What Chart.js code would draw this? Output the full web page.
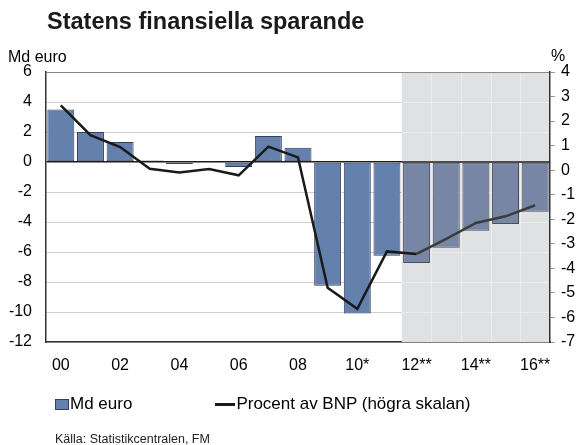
<!DOCTYPE html>
<html lang="sv">
<head>
    <meta charset="UTF-8">
    <title>Statens finansiella sparande</title>
    <script src="https://cdn.jsdelivr.net/npm/chart.js"></script>
    <style>
        body {
            margin: 0;
            padding: 0;
            background: #ffffff;
            font-family: "Liberation Sans", Arial, sans-serif;
        }

        .wrap {
            position: relative;
            width: 581px;
            height: 445px;
        }

        canvas {
            position: absolute;
            left: 0;
            top: 0;
        }

        .legend {
            position: absolute;
            top: 394px;
            left: 55px;
            font-size: 17px;
            color: #000;
            display: flex;
            align-items: center;
            white-space: nowrap;
        }

        .legend .item {
            display: flex;
            align-items: center;
        }

        .legend .box {
            width: 12px;
            height: 9px;
            margin-right: 1px;
        }

        .legend .line {
            width: 20px;
            height: 3px;
            margin-right: 1px;
        }
    </style>
</head>
<body>

    <div class="wrap">
        <canvas id="sparande" width="581" height="445"></canvas>
        <div class="legend" id="legend"></div>
    </div>

    <script>
        // år (00-16), * = preliminärt, ** = prognos
        const years = ['00', '01', '02', '03', '04', '05', '06', '07', '08', '09',
                       '10*', '11*', '12**', '13**', '14**', '15**', '16**'];

        // Md euro (vänstra skalan)
        const mdEuro = [3.5, 2.0, 1.33, 0.1, -0.13, 0.07, -0.33, 1.73, 0.95,
                        -8.25, -10.1, -6.25, -6.73, -5.71, -4.58, -4.13, -3.31];

        // Procent av BNP (högra skalan)
        const procentBnp = [2.64, 1.43, 0.94, 0.06, -0.09, 0.05, -0.21, 0.96, 0.52,
                            -4.79, -5.65, -3.31, -3.41, -2.8, -2.15, -1.88, -1.43];

        // första prognosåret (index i years)
        const prognosStart = 12;

        const barFill = mdEuro.map((v, i) => i >= prognosStart ? '#7786a4' : '#6481ad');
        const barBorder = mdEuro.map((v, i) => i >= prognosStart ? '#4b505c' : '#36405a');

        // grå prognosyta + ljusa stödlinjer ovanpå
        const prognosYta = {
            id: 'prognosYta',
            beforeDatasetsDraw(chart) {
                const { ctx, chartArea, scales } = chart;
                const step = scales.x.getPixelForValue(1) - scales.x.getPixelForValue(0);
                const x0 = scales.x.getPixelForValue(prognosStart) - step / 2;
                ctx.save();
                ctx.fillStyle = '#e0e1e3';
                ctx.fillRect(x0, chartArea.top + 1, chartArea.right - x0 - 1, chartArea.bottom - chartArea.top - 1);

                ctx.strokeStyle = '#ececec';
                ctx.lineWidth = 1;
                scales.y.ticks.forEach(t => {
                    if (t.value === 0 || t.value === 6 || t.value === -12) return;
                    const y = Math.round(scales.y.getPixelForValue(t.value)) + 0.5;
                    ctx.beginPath();
                    ctx.moveTo(x0, y);
                    ctx.lineTo(chartArea.right - 1, y);
                    ctx.stroke();
                });
                for (let i = prognosStart + 1; i < years.length; i++) {
                    const x = Math.round(scales.x.getPixelForValue(i) - step / 2) + 0.5;
                    ctx.beginPath();
                    ctx.moveTo(x, chartArea.top + 1);
                    ctx.lineTo(x, chartArea.bottom);
                    ctx.stroke();
                }
                // nollinjen
                const y0 = scales.y.getPixelForValue(0);
                ctx.strokeStyle = '#1a1a1a';
                ctx.lineWidth = 1.5;
                ctx.beginPath();
                ctx.moveTo(x0, y0);
                ctx.lineTo(chartArea.right, y0);
                ctx.stroke();
                ctx.restore();
            }
        };

        // rubrik, enheter och källa
        const texter = {
            id: 'texter',
            afterDraw(chart) {
                const ctx = chart.ctx;
                ctx.save();
                ctx.fillStyle = '#1a1a1a';
                ctx.textBaseline = 'middle';
                ctx.textAlign = 'left';
                ctx.font = 'bold 23.5px "Liberation Sans", Arial, sans-serif';
                ctx.fillText('Statens finansiella sparande', 47, 23);
                ctx.fillStyle = '#000';
                ctx.font = '16px "Liberation Sans", Arial, sans-serif';
                ctx.fillText('Md euro', 8, 58);
                ctx.fillText('%', 551, 57);
                ctx.fillStyle = '#222';
                ctx.font = '12.5px "Liberation Sans", Arial, sans-serif';
                ctx.fillText('Källa: Statistikcentralen, FM', 55, 440);
                ctx.restore();
            }
        };

        const fontTick = { family: '"Liberation Sans", Arial, sans-serif', size: 16 };

        const chart = new Chart(document.getElementById('sparande'), {
            data: {
                labels: years,
                datasets: [{
                    type: 'line',
                    label: 'Procent av BNP (högra skalan)',
                    data: procentBnp,
                    yAxisID: 'y1',
                    borderColor: '#1a1a1a',
                    borderWidth: 2.5,
                    pointRadius: 0,
                    tension: 0,
                    order: 0,
                    segment: {
                        borderColor: c => c.p0DataIndex >= prognosStart ? '#3c3c3c' : undefined
                    }
                }, {
                    type: 'bar',
                    label: 'Md euro',
                    data: mdEuro,
                    yAxisID: 'y',
                    backgroundColor: barFill,
                    borderColor: barBorder,
                    borderWidth: 1,
                    borderSkipped: false,
                    barPercentage: 0.91,
                    categoryPercentage: 1,
                    order: 1
                }]
            },
            options: {
                responsive: false,
                animation: false,
                layout: {
                    padding: { top: 72, left: 0, right: 0, bottom: 63 }
                },
                plugins: {
                    legend: { display: false },
                    tooltip: { enabled: false }
                },
                scales: {
                    x: {
                        grid: { color: '#ffffff', drawTicks: false },
                        border: { color: '#333', width: 1.5 },
                        ticks: {
                            autoSkip: false,
                            maxRotation: 0,
                            padding: 14,
                            color: '#000',
                            font: fontTick,
                            callback: (v, i) => i % 2 === 0 ? years[i] : ''
                        },
                        afterFit: s => { s.height = 40; }
                    },
                    y: {
                        position: 'left',
                        min: -12,
                        max: 6,
                        ticks: { stepSize: 2, padding: 14, color: '#000', font: fontTick },
                        grid: {
                            drawTicks: false,
                            color: c => c.tick.value === 0 ? '#1a1a1a' : (c.tick.value === 6 ? '#888888' : '#cfcfcf'),
                            lineWidth: c => c.tick.value === 0 ? 1.5 : 1
                        },
                        border: { color: '#333', width: 1.5 },
                        afterFit: s => { s.width = 46; }
                    },
                    y1: {
                        position: 'right',
                        min: -7,
                        max: 4,
                        ticks: { stepSize: 1, padding: 6, color: '#000', font: fontTick },
                        grid: { drawOnChartArea: false, tickLength: 5, color: '#999' },
                        border: { color: '#333', width: 1.5 },
                        afterFit: s => { s.width = 31; }
                    }
                }
            },
            plugins: [prognosYta, texter]
        });

        // förklaring byggd från datamängderna
        const legend = document.getElementById('legend');
        const bar = chart.data.datasets[1];
        const line = chart.data.datasets[0];
        legend.innerHTML =
            '<span class="item"><span class="box" style="background:' + bar.backgroundColor[0] +
            ';border:1px solid ' + bar.borderColor[0] + '"></span>' + bar.label + '</span>' +
            '<span class="item" style="margin-left:83px"><span class="line" style="background:' +
            line.borderColor + '"></span>' + line.label + '</span>';
    </script>
</body>
</html>
